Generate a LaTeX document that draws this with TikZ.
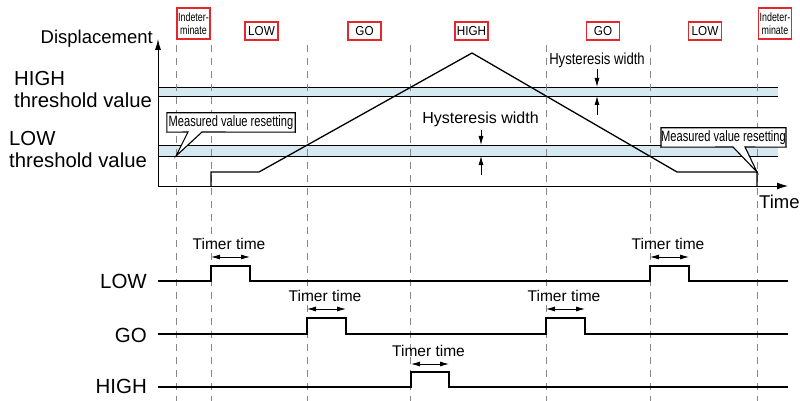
\documentclass[tikz,border=0pt]{standalone}
\usepackage{fontspec}
\setmainfont{Liberation Sans}
\newfontfamily\narrowf[FakeStretch=0.74]{Liberation Sans}
\newfontfamily\statef[FakeStretch=0.9]{Liberation Sans}
\newfontfamily\hystf[FakeStretch=0.82]{Liberation Sans}
\usetikzlibrary{arrows.meta}
\definecolor{bandblue}{RGB}{214,233,241}
\definecolor{boxred}{RGB}{228,38,45}
\definecolor{dashgray}{RGB}{135,135,135}
\begin{document}
\begin{tikzpicture}[x=1pt,y=-1pt,
  axis/.style={line width=0.9pt},
  wave/.style={line width=1.3pt, line join=miter},
  guide/.style={draw=dashgray, line width=0.8pt, dash pattern=on 7pt off 6pt},
  bandline/.style={line width=0.8pt},
  statebox/.style={draw=boxred, line width=1.2pt, fill=white, inner sep=0pt,
    minimum width=33pt, minimum height=18pt, font=\statef\fontsize{13}{13}\selectfont},
  indbox/.style={statebox, minimum height=31pt, align=center,
    font=\narrowf\fontsize{12}{13}\selectfont},
  biglbl/.style={inner sep=0pt, align=left, font=\fontsize{20.3}{22}\selectfont},
  siglbl/.style={inner sep=0pt, anchor=base east, font=\fontsize{20.5}{22}\selectfont},
  timerlbl/.style={inner sep=0pt, anchor=base, font=\fontsize{15.5}{17}\selectfont},
  timerarrow/.style={line width=0.8pt, {Latex[length=9pt,width=5pt]}-{Latex[length=9pt,width=5pt]}},
  harrow/.style={line width=0.8pt, -{Latex[length=9pt,width=5pt]}},
  calloutlbl/.style={inner sep=0pt, fill=white, font=\narrowf\fontsize{15}{15}\selectfont},
  calloutline/.style={line width=1.1pt, line join=miter}
]
\useasboundingbox (0,0) rectangle (800,401);

% bands
\fill[bandblue] (158,87) rectangle (778,96);
\fill[bandblue] (158,145) rectangle (778,156);
\foreach \yy/\n in {87/a,96/b,145/c,156/d}{
  \coordinate (bl\n) at (158,\yy); \coordinate (br\n) at (778,\yy);
  \draw[bandline] (bl\n) -- (br\n);
}

% dashed guides
\foreach \xx/\n in {176/a,211/b,307/c,410/d,546/e,650/f,757/g}{
  \coordinate (gt\n) at (\xx,45); \coordinate (gb\n) at (\xx,401);
  \draw[guide] (gt\n) -- (gb\n);
}

% axes
\coordinate (origin) at (158,186);
\coordinate (ytop) at (158,39);
\coordinate (xend) at (788,186);
\draw[axis, -{Latex[length=11pt,width=6pt]}] (origin) -- (ytop);
\draw[axis, -{Latex[length=11pt,width=7pt]}] (origin) -- (xend);

% displacement signal
\coordinate (s0) at (211,186);
\coordinate (s1) at (211,172);
\coordinate (s2) at (259,172);
\coordinate (peak) at (472,53);
\coordinate (s3) at (677,172);
\coordinate (s4) at (757,172);
\coordinate (s5) at (757,186);
\draw[wave] (s0) -- (s1) -- (s2) -- (peak) -- (s3) -- (s4) -- (s5);

% axis labels
\node[inner sep=0pt, anchor=base east, font=\fontsize{18.5}{20}\selectfont] (displbl) at (153,44) {Displacement};
\node[inner sep=0pt, anchor=base west, font=\fontsize{18.5}{20}\selectfont] (timelbl) at (759,208) {Time};
\node[biglbl, anchor=north west] (highthr) at (14,71.5) {HIGH\\threshold value};
\node[biglbl, anchor=north west] (lowthr) at (9,131.5) {LOW\\threshold value};

% state boxes
\node[indbox] (ind1) at (193.5,23.5) {Indeter-\\minate};
\node[statebox] (st1) at (261.5,31) {LOW};
\node[statebox] (st2) at (364.5,31) {GO};
\node[statebox] (st3) at (471.5,31) {HIGH};
\node[statebox] (st4) at (603,31) {GO};
\node[statebox] (st5) at (705,31) {LOW};
\node[indbox] (ind2) at (775,23.5) {Indeter-\\minate};

% hysteresis
\node[inner sep=0pt, anchor=base, font=\hystf\fontsize{16}{18}\selectfont] (hyst1) at (597,65) {Hysteresis width};
\coordinate (h1a) at (597,69); \coordinate (h1b) at (597,87);
\coordinate (h1c) at (597,115); \coordinate (h1d) at (597,96);
\draw[harrow] (h1a) -- (h1b);
\draw[harrow] (h1c) -- (h1d);
\node[inner sep=0pt, anchor=base, font=\fontsize{16}{18}\selectfont] (hyst2) at (480.5,124) {Hysteresis width};
\coordinate (h2a) at (481,130); \coordinate (h2b) at (481,145);
\coordinate (h2c) at (481,175); \coordinate (h2d) at (481,156);
\draw[harrow] (h2a) -- (h2b);
\draw[harrow] (h2c) -- (h2d);

% callouts
\coordinate (c1a) at (188,132); \coordinate (c1b) at (202,132); \coordinate (c1t) at (176,156);
\fill[white] (c1a) -- (c1t) -- (c1b) -- cycle;
\node[calloutlbl, minimum width=128pt, minimum height=19pt] (mvr1) at (231,122.5) {Measured value resetting};
\draw[calloutline] (mvr1.north west) -- (mvr1.north east) -- (mvr1.south east) -- (c1b) -- (c1t) -- (c1a) -- (mvr1.south west) -- cycle;

\coordinate (c2a) at (733,147); \coordinate (c2b) at (745,147); \coordinate (c2t) at (757,172);
\fill[white] (c2a) -- (c2t) -- (c2b) -- cycle;
\node[calloutlbl, minimum width=123pt, minimum height=19pt] (mvr2) at (723.5,137.5) {Measured value resetting};
\draw[calloutline] (mvr2.north west) -- (mvr2.north east) -- (mvr2.south east) -- (c2b) -- (c2t) -- (c2a) -- (mvr2.south west) -- cycle;

% output signals
\node[siglbl] (outlow) at (147,288) {LOW};
\node[siglbl] (outgo) at (147,342) {GO};
\node[siglbl] (outhigh) at (147,393) {HIGH};

\coordinate (L0) at (158,281);
\draw[wave] (L0) -- (211,281) -- (211,266) -- (250,266) -- (250,281) -- (650,281) -- (650,266) -- (689,266) -- (689,281) -- (788,281);
\coordinate (G0) at (158,334);
\draw[wave] (G0) -- (307,334) -- (307,318) -- (346,318) -- (346,334) -- (546,334) -- (546,318) -- (585,318) -- (585,334) -- (788,334);
\coordinate (H0) at (158,387);
\draw[wave] (H0) -- (411,387) -- (411,372) -- (449,372) -- (449,387) -- (788,387);

% timer times
\foreach \xa/\xb/\yy/\n in {211/250/257/a, 650/689/257/b, 307/346/309/c, 546/585/309/d, 411/449/364/e}{
  \coordinate (tl\n) at (\xa,\yy); \coordinate (tr\n) at (\xb,\yy);
  \draw[timerarrow] (tl\n) -- (tr\n);
  \node[timerlbl] (tt\n) at (\xa/2+\xb/2-1.5, \yy-7.5) {Timer time};
}
\end{tikzpicture}
\end{document}
